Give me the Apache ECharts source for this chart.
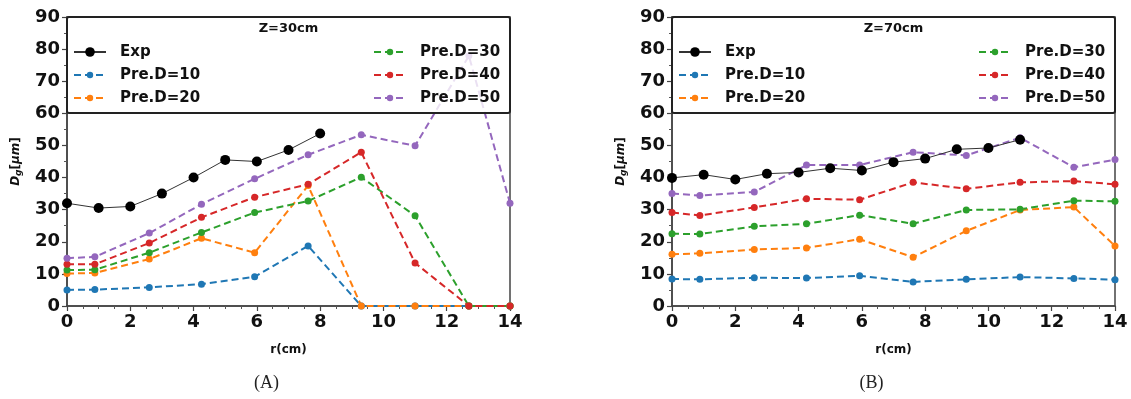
<!DOCTYPE html>
<html>
<head>
<meta charset="utf-8">
<script src="https://cdn.jsdelivr.net/npm/echarts@6/dist/echarts.min.js"></script>
<style>
html,body{margin:0;padding:0;background:#fff;}
#c{width:1131px;height:399px;}
</style>
</head>
<body>
<div id="c"></div>
<script>
// ---- data ----
const rPred = [0, 0.88, 2.6, 4.25, 5.93, 7.62, 9.3, 11.0, 12.7, 14];
const rExpA = [0, 1, 2, 3, 4, 5, 6, 7, 8];
const rExpB = [0, 1, 2, 3, 4, 5, 6, 7, 8, 9, 10, 11];

// Panel A (Z=30cm)
const expA = [32, 30.5, 31, 35, 40, 45.5, 45, 48.6, 53.7];
const d10A = [5, 5.1, 5.8, 6.8, 9.1, 18.7, 0, 0, 0, 0];
const d20A = [10.1, 10.3, 14.6, 21.1, 16.6, 37.5, 0, 0, 0, 0];
const d30A = [11.2, 11.3, 16.6, 22.9, 29.1, 32.7, 40.1, 28.1, 0, 0];
const d40A = [13.0, 13.0, 19.6, 27.6, 33.9, 37.9, 47.9, 13.4, 0, 0];
const d50A = [14.9, 15.3, 22.7, 31.7, 39.6, 47.1, 53.3, 49.9, 77.9, 32];

// Panel B (Z=70cm)
const expB = [39.9, 40.9, 39.4, 41.2, 41.6, 42.9, 42.2, 44.8, 45.9, 48.8, 49.2, 51.8];
const d10B = [8.4, 8.3, 8.8, 8.7, 9.4, 7.5, 8.3, 9.0, 8.6, 8.2];
const d20B = [16.1, 16.4, 17.6, 18.1, 20.8, 15.2, 23.4, 29.9, 30.8, 18.7];
const d30B = [22.5, 22.4, 24.8, 25.6, 28.3, 25.6, 29.9, 30.1, 32.8, 32.6];
const d40B = [29.1, 28.2, 30.7, 33.4, 33.1, 38.5, 36.5, 38.5, 38.9, 37.9];
const d50B = [35.0, 34.4, 35.5, 43.9, 43.9, 47.9, 46.9, 52.4, 43.2, 45.6];

const xTicks = [0, 2, 4, 6, 8, 10, 12, 14];
const yTicks = [0, 10, 20, 30, 40, 50, 60, 70, 80, 90];
const names = ['Exp', 'Pre.D=10', 'Pre.D=20', 'Pre.D=30', 'Pre.D=40', 'Pre.D=50'];
const colors = ['#000000', '#1f77b4', '#ff7f0e', '#2ca02c', '#d62728', '#9467bd'];
const panelTitles = ['Z=30cm', 'Z=70cm'];
const captions = ['(A)', '(B)'];
// ---- end data ----

const zip = (xs, ys) => xs.map((x, i) => [x, ys[i]]);
const FONT = 'DejaVu Sans';

const grids = [
  {left: 67, top: 17, width: 443, height: 289},
  {left: 672, top: 17, width: 443, height: 289}
];

function xAxis(i) {
  return {
    type: 'value', gridIndex: i, min: xTicks[0], max: xTicks[xTicks.length - 1], interval: xTicks[1] - xTicks[0],
    axisLine: {show: true, lineStyle: {color: '#444', width: 1.5}},
    axisTick: {show: true, length: 5, lineStyle: {color: '#444', width: 1.2}},
    minorTick: {show: true, splitNumber: 4, length: 3, lineStyle: {color: '#555'}},
    splitLine: {show: false},
    axisLabel: {fontFamily: FONT, fontWeight: 'bold', fontSize: 18, color: '#111', margin: 7},
    name: 'r(cm)', nameLocation: 'middle', nameGap: 38,
    nameTextStyle: {fontFamily: FONT, fontWeight: 'bold', fontSize: 12, color: '#111'}
  };
}
function yAxis(i) {
  return {
    type: 'value', gridIndex: i, min: yTicks[0], max: yTicks[yTicks.length - 1], interval: yTicks[1] - yTicks[0],
    axisLine: {show: true, lineStyle: {color: '#444', width: 1.5}},
    axisTick: {show: true, length: 5, lineStyle: {color: '#444', width: 1.2}},
    minorTick: {show: true, splitNumber: 2, length: 3, lineStyle: {color: '#555'}},
    splitLine: {show: false},
    axisLabel: {fontFamily: FONT, fontWeight: 'bold', fontSize: 18, color: '#111', margin: 7},
    name: '{i|D}{s|g}{n|[}{i|μm}{n|]}', nameLocation: 'middle', nameGap: 44, nameRotate: 90,
    nameTextStyle: {
      rich: {
        i: {fontFamily: FONT, fontStyle: 'italic', fontWeight: 'bold', fontSize: 12, color: '#111'},
        s: {fontFamily: FONT, fontStyle: 'italic', fontWeight: 'bold', fontSize: 9, color: '#111', verticalAlign: 'bottom', padding: [6, 0, 0, 0]},
        n: {fontFamily: FONT, fontWeight: 'bold', fontSize: 12, color: '#111'}
      }
    }
  };
}

const panelData = [
  [zip(rExpA, expA), zip(rPred, d10A), zip(rPred, d20A), zip(rPred, d30A), zip(rPred, d40A), zip(rPred, d50A)],
  [zip(rExpB, expB), zip(rPred, d10B), zip(rPred, d20B), zip(rPred, d30B), zip(rPred, d40B), zip(rPred, d50B)]
];

const series = [];
panelData.forEach((arr, p) => {
  arr.forEach((d, k) => {
    const isExp = k === 0;
    series.push({
      type: 'line', name: names[k], xAxisIndex: p, yAxisIndex: p, data: d,
      symbol: 'circle', symbolSize: isExp ? 10 : 7, z: isExp ? 3 : 2,
      itemStyle: {color: colors[k]},
      lineStyle: isExp ? {color: '#333', width: 1} : {color: colors[k], width: 2, type: [7, 4]},
      emphasis: {disabled: true}, animation: false
    });
  });
});

// legend groups: [names, column, row offset, icon height]
const legendGroups = [
  [names.slice(0, 1), 0, 0, 12],
  [names.slice(1, 3), 0, 1, 8],
  [names.slice(3, 6), 1, 0, 8]
];
const legends = [];
grids.forEach(g => {
  legendGroups.forEach(([data, col, row, ih]) => {
    legends.push({
      data: data,
      orient: 'vertical', left: g.left + (col === 0 ? 6 : 306), top: 44 + row * 23,
      itemWidth: 32, itemHeight: ih, itemGap: 7, padding: 0,
      textStyle: {fontFamily: FONT, fontWeight: 'bold', fontSize: 15, color: '#111', lineHeight: 16, padding: [0, 0, 0, 9]},
      selectedMode: false
    });
  });
});

const graphic = grids.map(g => ({
  type: 'rect', z: 3, silent: true,
  shape: {x: g.left, y: g.top, width: g.width, height: 96, r: 2},
  style: {fill: 'rgba(255,255,255,0.8)', stroke: '#222', lineWidth: 2}
}));

const titles = [];
grids.forEach((g, p) => {
  titles.push({text: panelTitles[p], left: g.left + g.width / 2, top: 22, textAlign: 'center', padding: 0,
    textStyle: {fontFamily: FONT, fontWeight: 'bold', fontSize: 13, color: '#111'}});
  titles.push({text: captions[p], left: g.left + g.width / 2 - 22, top: 374, textAlign: 'center', padding: 0,
    textStyle: {fontFamily: 'Liberation Serif', fontWeight: 'normal', fontSize: 18, color: '#222'}});
});

const chart = echarts.init(document.getElementById('c'), null, {renderer: 'canvas'});
chart.setOption({
  animation: false,
  backgroundColor: '#fff',
  title: titles,
  grid: grids.map(g => Object.assign({show: true, borderColor: '#444', borderWidth: 1.5, backgroundColor: 'transparent'}, g)),
  xAxis: [xAxis(0), xAxis(1)],
  yAxis: [yAxis(0), yAxis(1)],
  legend: legends,
  graphic: graphic,
  series: series
});
</script>
</body>
</html>
